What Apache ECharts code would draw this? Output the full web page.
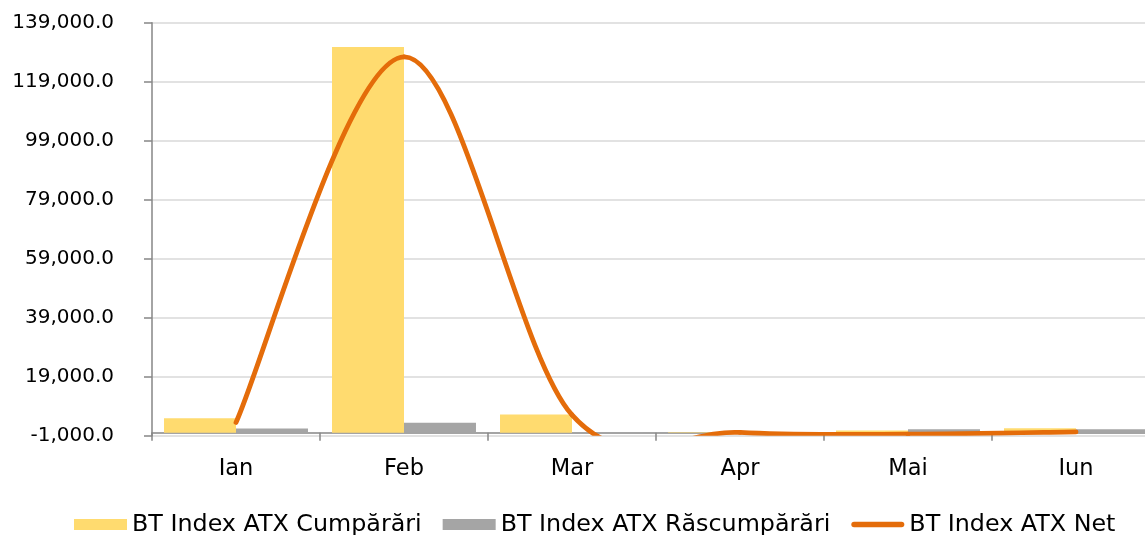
<!DOCTYPE html>
<html>
<head>
<meta charset="utf-8">
<script src="https://cdn.jsdelivr.net/npm/echarts@6/dist/echarts.min.js"></script>
<style>
  html, body { margin: 0; padding: 0; background: #ffffff; }
  #chart { width: 1145px; height: 535px; }
</style>
</head>
<body>
<div id="chart"></div>
<script>
// ---- Data ----
const categories = ['Ian', 'Feb', 'Mar', 'Apr', 'Mai', 'Iun'];
const cumparari = [4900, 130800, 6200, 150, 750, 1500];
const rascumparari = [1400, 3400, 150, 50, 1200, 1200];
const net = [3500, 127400, 6050, 100, -450, 300];
const seriesNames = ['BT Index ATX Cumpărări', 'BT Index ATX Răscumpărări', 'BT Index ATX Net'];
const yMin = -1000, yMax = 139000, yStep = 20000;

const FONT = 'DejaVu Sans';
const ORANGE = '#E46C0A';

// Excel-style smoothed line (Catmull-Rom bezier), drawn through the grid's own scales
function renderNetSegment(params, api) {
  const i = params.dataIndex;
  if (i >= net.length - 1) return null;
  const p = (j) => {
    const k = Math.max(0, Math.min(net.length - 1, j));
    return api.coord([k, net[k]]);
  };
  const p0 = p(i - 1), p1 = p(i), p2 = p(i + 1), p3 = p(i + 2);
  return {
    type: 'bezierCurve',
    shape: {
      x1: p1[0], y1: p1[1],
      x2: p2[0], y2: p2[1],
      cpx1: p1[0] + (p2[0] - p0[0]) / 6,
      cpy1: p1[1] + (p2[1] - p0[1]) / 6,
      cpx2: p2[0] - (p3[0] - p1[0]) / 6,
      cpy2: p2[1] - (p3[1] - p1[1]) / 6
    },
    style: { stroke: ORANGE, lineWidth: 4.8, fill: null, lineCap: 'round' }
  };
}

// legend icon: thick line with rounded ends inside a 53x11 box
const lineIcon = 'path://M0,0 M53,11 M2.75,2.75 L50.25,2.75 A2.75,2.75 0 0 1 50.25,8.25 L2.75,8.25 A2.75,2.75 0 0 1 2.75,2.75 Z';

const chart = echarts.init(document.getElementById('chart'), null, { renderer: 'canvas' });
chart.setOption({
  animation: false,
  backgroundColor: '#ffffff',
  textStyle: { fontFamily: FONT },
  grid: {
    left: 152, width: 1008, top: 22.7, height: 413,
    containLabel: false, outerBoundsMode: 'none'
  },
  legend: {
    data: [
      { name: seriesNames[0], icon: 'rect' },
      { name: seriesNames[1], icon: 'rect' },
      { name: seriesNames[2], icon: lineIcon }
    ],
    top: 512.5,
    left: 74,
    padding: 0,
    itemWidth: 53,
    itemHeight: 11,
    itemGap: 21,
    textStyle: { fontFamily: FONT, fontSize: 23.8, color: '#000000' }
  },
  xAxis: {
    type: 'category',
    data: categories,
    axisLine: { onZero: true, lineStyle: { color: '#868686', width: 1.5 } },
    axisTick: { show: true, alignWithLabel: false, length: 8, lineStyle: { color: '#868686', width: 1.5 } },
    axisLabel: { fontFamily: FONT, fontSize: 22.5, color: '#000000', margin: 22 },
    splitLine: { show: false }
  },
  yAxis: {
    type: 'value',
    min: yMin,
    max: yMax,
    interval: yStep,
    axisLine: { show: true, lineStyle: { color: '#868686', width: 1.5 } },
    axisTick: { show: true, length: 8, lineStyle: { color: '#868686', width: 1.5 } },
    axisLabel: {
      fontFamily: FONT, fontSize: 20, color: '#000000', margin: 38,
      formatter: (v) => v.toLocaleString('en-US', { minimumFractionDigits: 1, maximumFractionDigits: 1 })
    },
    splitLine: { show: true, lineStyle: { color: '#D9D9D9', width: 1.5 } }
  },
  series: [
    {
      name: seriesNames[0], type: 'bar', data: cumparari,
      itemStyle: { color: '#FFDB6F' },
      barGap: '0%', barCategoryGap: '14.3%'
    },
    {
      name: seriesNames[1], type: 'bar', data: rascumparari,
      itemStyle: { color: '#A5A5A5' },
      barGap: '0%', barCategoryGap: '14.3%'
    },
    {
      name: seriesNames[2], type: 'custom',
      data: net.map((v, i) => [i, v]),
      encode: { x: 0, y: 1 },
      itemStyle: { color: ORANGE },
      renderItem: renderNetSegment,
      clip: true,
      z: 3
    }
  ]
});
</script>
</body>
</html>
